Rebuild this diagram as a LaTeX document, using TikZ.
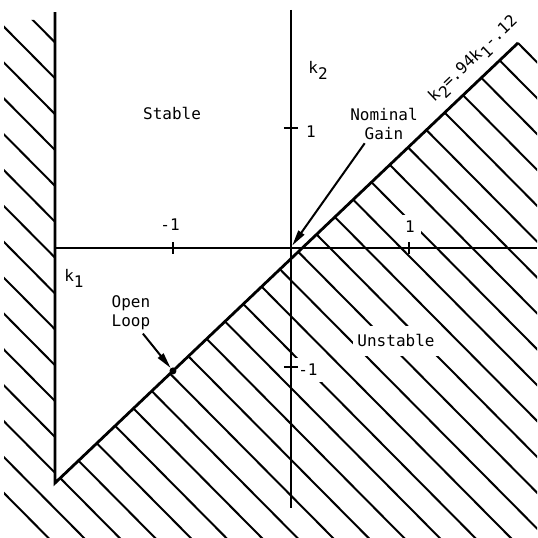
\documentclass[tikz,border=0pt]{standalone}
\usepackage{fontspec}
\setmainfont{DejaVu Sans Mono}
\usetikzlibrary{arrows.meta}
\newcommand\lsub[1]{\raisebox{-6pt}{#1}}

\begin{document}
\begin{tikzpicture}[x=118pt, y=119pt,
    font=\fontsize{16}{19}\selectfont,
    hatch/.style={line width=2pt},
    axis/.style={line width=2.2pt},
    bound/.style={line width=2.8pt},
    lbl/.style={fill=white, inner sep=6pt},
    ptr/.style={line width=2pt, -{Triangle[length=16pt,width=7pt]}}]
  \useasboundingbox (-2.466,-2.437) rectangle (2.085,2.084);
  \coordinate (corner) at (-2,-1.975);
  \coordinate (top) at (1.924,1.723);
  % hatched (unstable) regions
  \begin{scope}
    \clip (-2.432,1.916) -- (-2,1.916) -- (corner) -- (top)
      -- (2.085,1.874) -- (2.085,-2.437) -- (-2.432,-2.437) -- cycle;
    \foreach \k [evaluate=\k as \b using 3.646-0.3014*\k] in {0,...,27}
      \draw[hatch] (-3,\b+3) -- (3,\b-3);
  \end{scope}
  % labels that break the hatching
  \node[lbl, inner xsep=4pt, inner ysep=9pt] (unst) at (0.89,-0.78) {Unstable};
  \node[lbl] (tp1) at (1.008,0.176) {1};
  \node[lbl] (tm1v) at (0.144,-1.025) {-1};
  % axes and stability boundary
  \draw[axis] (-2,0) -- (2.085,0);
  \draw[axis] (0,2.0) -- (0,-2.185);
  \foreach \x in {-1,1}
    \draw[axis] (\x,-0.05) -- (\x,0.05);
  \foreach \y in {-1.0,1.008}
    \draw[axis] (-0.06,\y) -- (0.06,\y);
  \draw[bound] (-2,1.983) -- (corner) -- (top);
  % remaining labels
  \node (tm1) at (-1.025,0.2) {-1};
  \node (t1v) at (0.17,0.975) {1};
  \node (k2lab) at (0.229,1.496) {k\lsub{2}};
  \node (k1lab) at (-1.839,-0.252) {k\lsub{1}};
  \node (stab) at (-1.008,1.134) {Stable};
  \node[rotate=43.6] (eqn) at (1.551,1.58) {k\lsub{2}=.94k\lsub{1}-.12};
  \node[align=center] (ngain) at (0.788,1.042) {Nominal\\Gain};
  \node[align=left] (oloop) at (-1.356,-0.546) {Open\\Loop};
  \node[circle, fill, inner sep=0pt, minimum size=7pt] (olpt) at (-1,-1.033) {};
  \coordinate (nom) at (0.01,0.02);
  \draw[ptr] (ngain.-135) -- (nom);
  \draw[ptr] (oloop.-60) -- (olpt);
\end{tikzpicture}
\end{document}
